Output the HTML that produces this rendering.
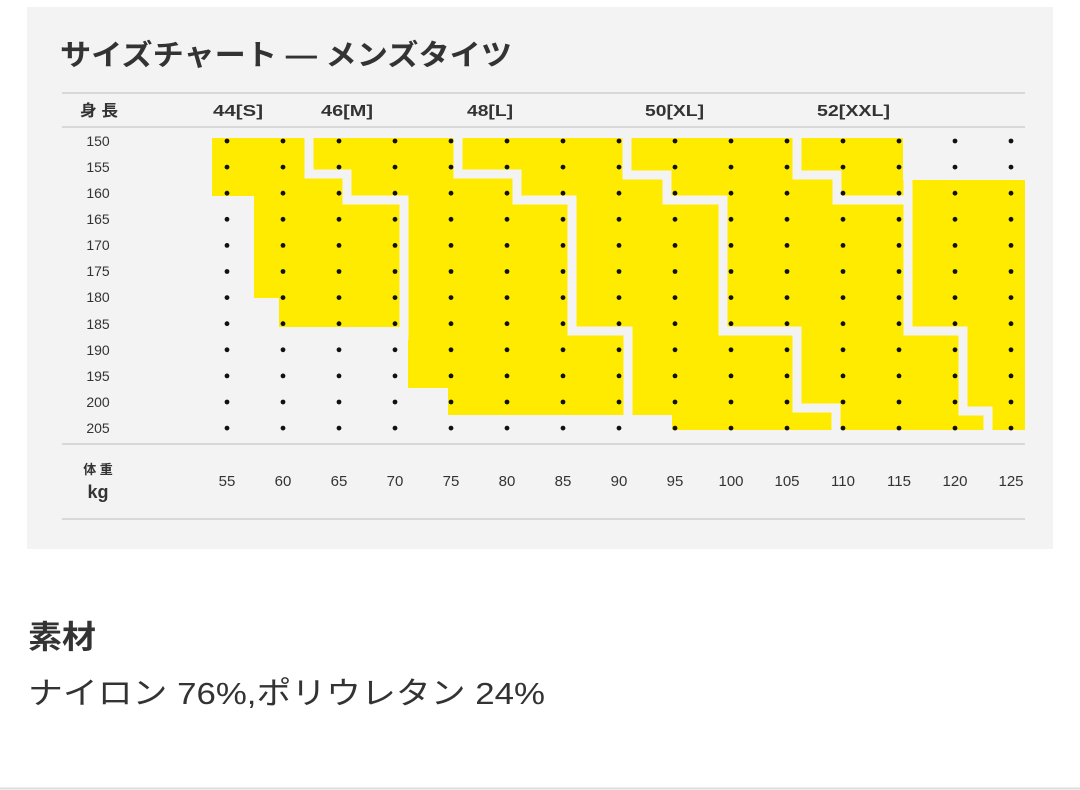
<!DOCTYPE html>
<html><head><meta charset="utf-8"><style>
html,body{margin:0;padding:0;background:#fff;width:1080px;height:790px;overflow:hidden}
svg{display:block}
</style></head><body>
<svg width="1080" height="790" viewBox="0 0 1080 790" xmlns="http://www.w3.org/2000/svg" font-family="Liberation Sans, Noto Sans CJK JP, sans-serif">
<rect x="27" y="7" width="1026" height="542" fill="#f3f3f3"/>
<text x="60" y="65" font-size="29" font-weight="bold" fill="#333" textLength="452" lengthAdjust="spacingAndGlyphs">サイズチャート — メンズタイツ</text>
<g stroke="#cfcfcf" stroke-width="1.5">
<line x1="62" y1="93" x2="1025" y2="93"/>
<line x1="62" y1="127" x2="1025" y2="127"/>
<line x1="62" y1="444" x2="1025" y2="444"/>
<line x1="62" y1="519" x2="1025" y2="519"/>
</g>
<g font-size="16" font-weight="bold" fill="#333">
<text x="80" y="116" textLength="38" lengthAdjust="spacingAndGlyphs">身 長</text>
<text x="213" y="116" textLength="50" lengthAdjust="spacingAndGlyphs">44[S]</text>
<text x="321" y="116" textLength="52" lengthAdjust="spacingAndGlyphs">46[M]</text>
<text x="467" y="116" textLength="46" lengthAdjust="spacingAndGlyphs">48[L]</text>
<text x="645" y="116" textLength="59" lengthAdjust="spacingAndGlyphs">50[XL]</text>
<text x="817" y="116" textLength="73" lengthAdjust="spacingAndGlyphs">52[XXL]</text>
</g>
<rect x="212" y="138" width="813" height="292" fill="#ffeb00"/>
<g fill="#f3f3f3">
<polygon points="200,196 254,196 254,298 279,298 279,327 408,327 408,388 448,388 448,415 672,415 672,440 200,440"/>
<rect x="903" y="130" width="130" height="50"/>
</g>
<g fill="none" stroke="#f3f3f3" stroke-width="9" stroke-linejoin="miter">
<polyline points="309,134 309,174 347,174 347,200 404,200 404,340"/>
<polyline points="458,134 458,174 517,174 517,200 572,200 572,331 628,331 628,420 667,420 667,440"/>
<polyline points="627,134 627,175 667,175 667,200 723,200 723,331 797,331 797,408 836,408 836,440"/>
<polyline points="797,134 797,175 837,175 837,200 908,200 908,331 963,331 963,411 988,411 988,440"/>
<polyline points="908,175 908,200"/>
</g>
<g font-size="14" fill="#333" text-anchor="middle">
<text x="98" y="146">150</text>
<text x="98" y="172">155</text>
<text x="98" y="198">160</text>
<text x="98" y="224">165</text>
<text x="98" y="250">170</text>
<text x="98" y="276">175</text>
<text x="98" y="302">180</text>
<text x="98" y="329">185</text>
<text x="98" y="355">190</text>
<text x="98" y="381">195</text>
<text x="98" y="407">200</text>
<text x="98" y="433">205</text>
</g>
<g fill="#111" id="dots"></g>
<g font-size="15" fill="#333" text-anchor="middle">
<text x="98" y="474" font-size="13" font-weight="bold">体 重</text>
<text x="98" y="498" font-size="18" font-weight="bold">kg</text>
<text x="227" y="486">55</text><text x="283" y="486">60</text><text x="339" y="486">65</text>
<text x="395" y="486">70</text><text x="451" y="486">75</text><text x="507" y="486">80</text>
<text x="563" y="486">85</text><text x="619" y="486">90</text><text x="675" y="486">95</text>
<text x="731" y="486">100</text><text x="787" y="486">105</text><text x="843" y="486">110</text>
<text x="899" y="486">115</text><text x="955" y="486">120</text><text x="1011" y="486">125</text>
</g>
<text x="28" y="648" font-size="32" font-weight="bold" fill="#333" textLength="68" lengthAdjust="spacingAndGlyphs">素材</text>
<text x="28" y="704" font-size="31" fill="#333" textLength="517" lengthAdjust="spacingAndGlyphs">ナイロン 76%,ポリウレタン 24%</text>
<line x1="0" y1="788.5" x2="1080" y2="788.5" stroke="#ddd" stroke-width="2"/>
</svg>
<script>
var g=document.getElementById('dots'),s='';
for(var i=0;i<15;i++)for(var j=0;j<12;j++){s+='<circle cx="'+(227+56*i)+'" cy="'+(141+26.1*j).toFixed(1)+'" r="2.4"/>';}
g.innerHTML=s;
</script>
</body></html>
